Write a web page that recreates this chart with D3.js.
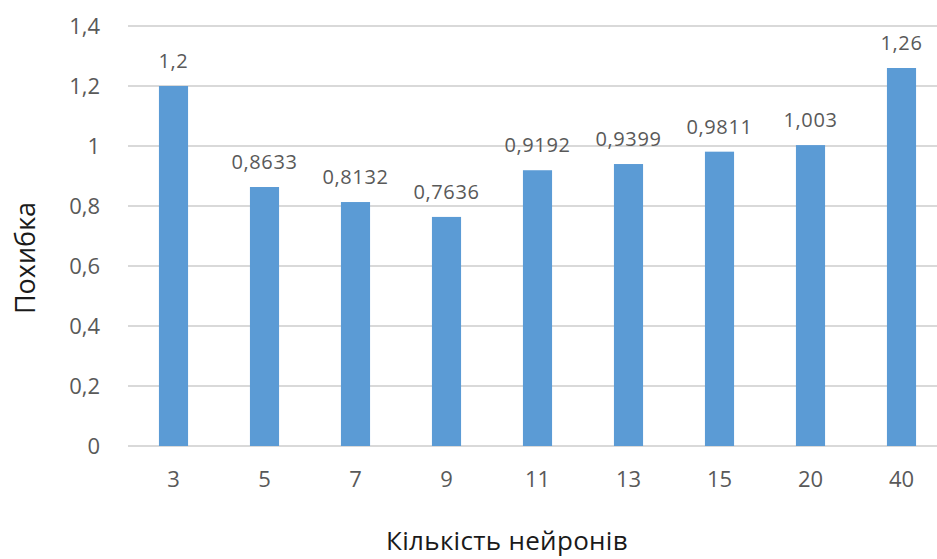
<!DOCTYPE html>
<html>
<head>
<meta charset="utf-8">
<script src="https://cdn.jsdelivr.net/npm/d3@7"></script>
<style>
  body { margin: 0; background: #fff; }
  text { font-family: "Open Sans", "Noto Sans", sans-serif; fill: #595959; }
</style>
</head>
<body>
<svg id="chart" width="937" height="559"></svg>
<script>
// Chart data
const neurons = ["3", "5", "7", "9", "11", "13", "15", "20", "40"];
const errors = [1.2, 0.8633, 0.8132, 0.7636, 0.9192, 0.9399, 0.9811, 1.003, 1.26];
const yTicks = [0, 0.2, 0.4, 0.6, 0.8, 1, 1.2, 1.4];

const xTitle = "Кількість нейронів";
const yTitle = "Похибка";

// Comma decimal separator
const fmt = v => String(v).replace(".", ",");

const svg = d3.select("#chart");
const plot = {left: 128, right: 947, top: 26, bottom: 446};

const x = d3.scaleBand()
	.domain(neurons)
	.range([plot.left, plot.right])
	.paddingInner(0.68)
	.paddingOuter(0.34);

const y = d3.scaleLinear()
	.domain([0, 1.4])
	.range([plot.bottom, plot.top]);

// Gridlines
svg.append("g")
	.selectAll("line")
	.data(yTicks)
	.join("line")
	.attr("x1", plot.left)
	.attr("x2", plot.right)
	.attr("y1", d => y(d))
	.attr("y2", d => y(d))
	.attr("stroke", "#d9d9d9")
	.attr("stroke-width", 2);

// Y axis labels
const yAxis = svg.append("g")
	.attr("transform", `translate(${plot.left - 28},0)`)
	.call(d3.axisLeft(y).tickValues(yTicks).tickFormat(fmt).tickSize(0).tickPadding(0));
yAxis.select(".domain").remove();
yAxis.selectAll("text")
	.style("font-size", "22px")
	.attr("fill", null);

// X axis labels
const xAxis = svg.append("g")
	.attr("transform", `translate(0,${plot.bottom + 25})`)
	.call(d3.axisBottom(x).tickSize(0).tickPadding(0));
xAxis.select(".domain").remove();
xAxis.selectAll("text")
	.style("font-size", "22px")
	.attr("dy", "0.71em")
	.attr("fill", null);

// Bars
svg.append("g")
	.selectAll("rect")
	.data(errors)
	.join("rect")
	.attr("x", (d, i) => x(neurons[i]))
	.attr("y", d => y(d))
	.attr("width", x.bandwidth())
	.attr("height", d => y(0) - y(d))
	.attr("fill", "#5b9bd5");

// Data labels
svg.append("g")
	.selectAll("text")
	.data(errors)
	.join("text")
	.attr("x", (d, i) => x(neurons[i]) + x.bandwidth() / 2)
	.attr("y", d => y(d) - 18)
	.attr("text-anchor", "middle")
	.style("font-size", "20px")
	.style("letter-spacing", "0.6px")
	.text(fmt);

// Axis titles
svg.append("text")
	.attr("x", 507)
	.attr("y", 550)
	.attr("text-anchor", "middle")
	.style("font-size", "26px")
	.style("letter-spacing", "0.3px")
	.style("fill", "#1a1a1a")
	.text(xTitle);

svg.append("text")
	.attr("transform", "translate(24,258) rotate(-90)")
	.attr("text-anchor", "middle")
	.attr("dominant-baseline", "central")
	.style("font-size", "27px")
	.style("fill", "#1a1a1a")
	.text(yTitle);
</script>
</body>
</html>
